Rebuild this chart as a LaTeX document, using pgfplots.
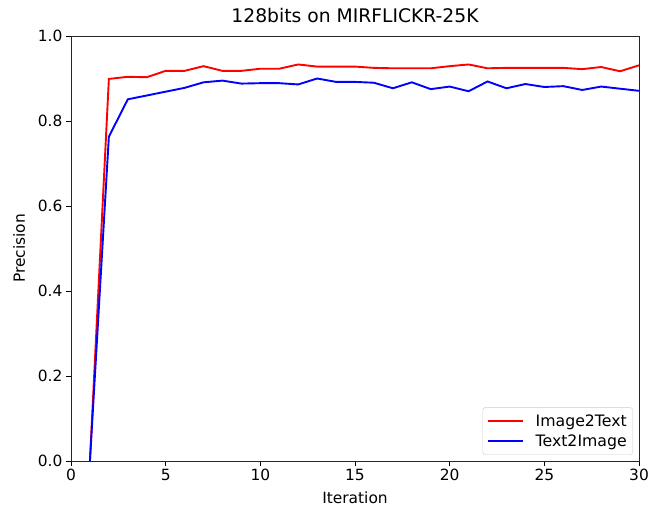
\documentclass[border=0pt]{standalone}
\usepackage{pgfplots}
\pgfplotsset{compat=1.18}
\usepackage{fontspec}
\setmainfont{DejaVu Sans}
\begin{document}
\begin{tikzpicture}[x=1bp,y=1bp]
\path[use as bounding box] (0,0) rectangle (648bp,512bp);
\begin{axis}[
  at={(71bp,51bp)}, anchor=south west,
  scale only axis, width=568bp, height=425bp,
  xmin=0, xmax=30, ymin=0, ymax=1,
  xtick={0,5,10,15,20,25,30},
  ytick={0,0.2,0.4,0.6,0.8,1.0},
  yticklabel style={/pgf/number format/.cd,fixed,fixed zerofill,precision=1},
  /pgf/number format/assume math mode=true,
  tick align=outside, tick pos=left,
  major tick length=5bp,
  every tick/.style={black, line width=0.9bp},
  axis line style={line width=0.9bp, black!85},
  tick label style={font=\fontsize{15.5}{18}\selectfont},
  label style={font=\fontsize{15.5}{18}\selectfont},
  title={128bits on MIRFLICKR-25K},
  title style={font=\fontsize{18.8}{22}\selectfont, yshift=4bp},
  xlabel={Iteration}, ylabel={Precision},
  xlabel style={yshift=-4bp}, ylabel style={yshift=6bp},
  legend style={at={(1,0)}, anchor=south east, xshift=-6bp, yshift=6bp,
    font=\fontsize{15.8}{19}\selectfont, draw=black!20, rounded corners=3bp,
    row sep=3bp, inner xsep=4bp, inner ysep=5bp, nodes={inner sep=2bp}},
  legend cell align=left,
  legend image code/.code={\draw[#1] (0bp,0bp) -- (35bp,0bp); \path (45bp,0bp);},
]
\addplot[red, line width=1.9bp] coordinates {
(1,0) (2,0.899) (3,0.904) (4,0.903) (5,0.918) (6,0.918) (7,0.929) (8,0.918) (9,0.918) (10,0.923)
(11,0.923) (12,0.933) (13,0.928) (14,0.928) (15,0.928) (16,0.925) (17,0.924) (18,0.924) (19,0.924) (20,0.929)
(21,0.933) (22,0.924) (23,0.925) (24,0.925) (25,0.925) (26,0.925) (27,0.922) (28,0.927) (29,0.917) (30,0.931)
};
\addlegendentry{Image2Text}
\addplot[blue, line width=1.9bp] coordinates {
(1,0) (2,0.763) (3,0.851) (4,0.860) (5,0.869) (6,0.878) (7,0.891) (8,0.895) (9,0.888) (10,0.889)
(11,0.889) (12,0.886) (13,0.900) (14,0.892) (15,0.892) (16,0.890) (17,0.877) (18,0.891) (19,0.875) (20,0.881)
(21,0.870) (22,0.893) (23,0.877) (24,0.887) (25,0.880) (26,0.882) (27,0.873) (28,0.881) (29,0.876) (30,0.871)
};
\addlegendentry{Text2Image}
\end{axis}
\end{tikzpicture}
\end{document}
